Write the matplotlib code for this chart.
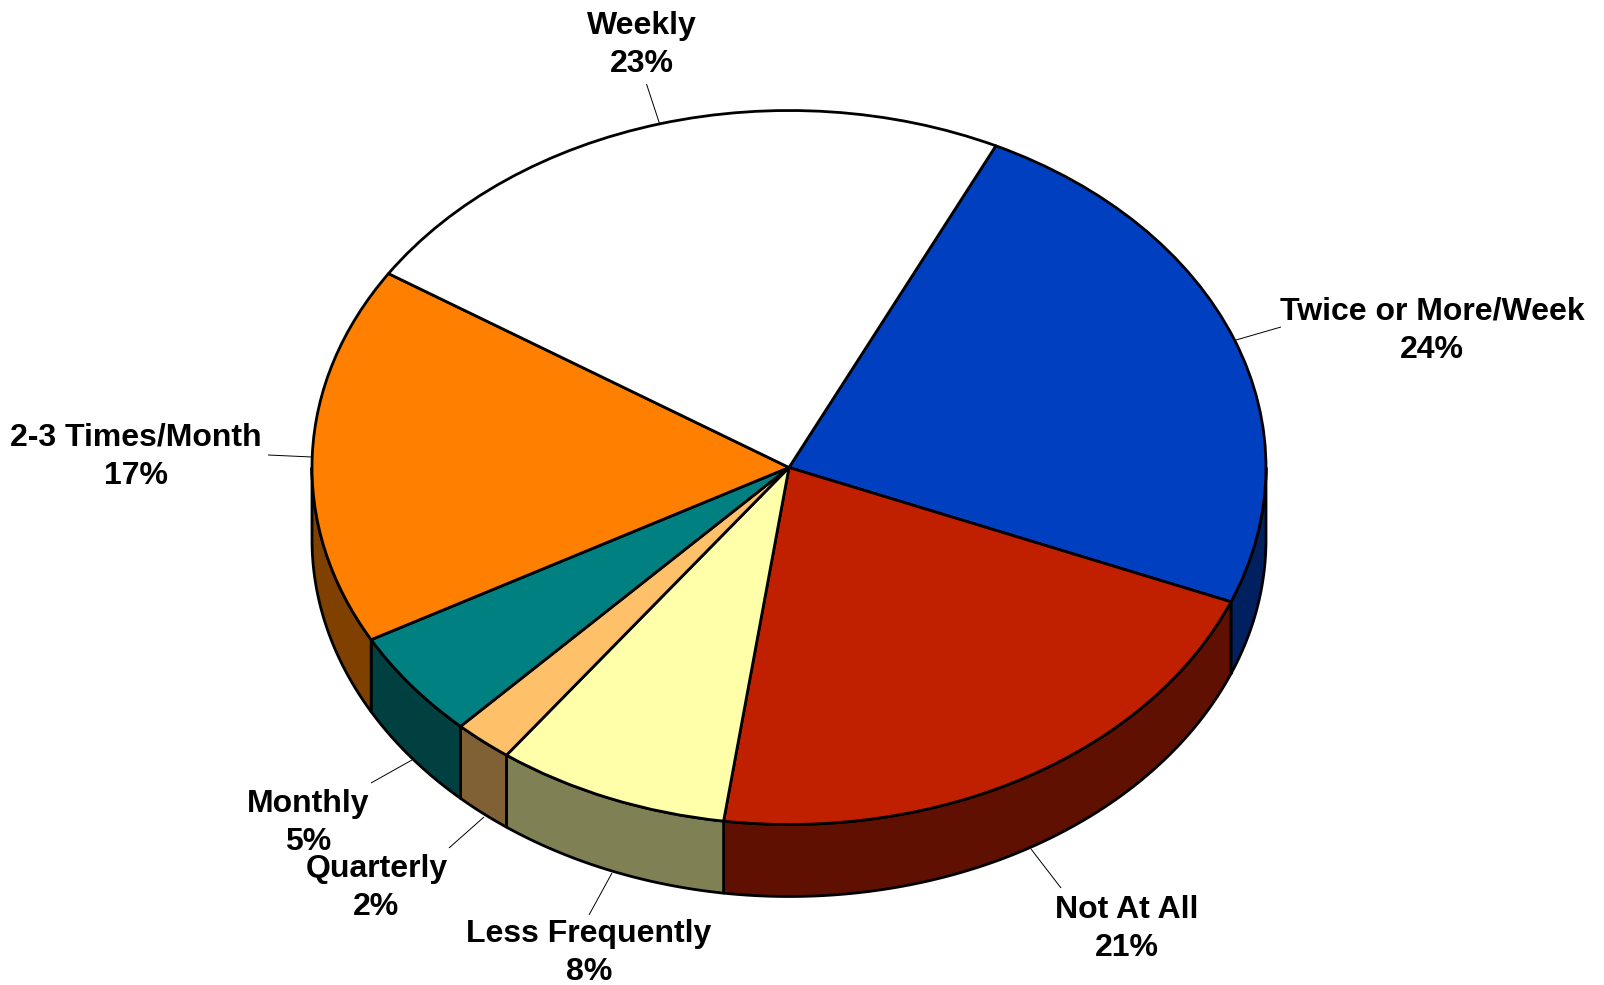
import numpy as np
import matplotlib
matplotlib.use('Agg')
import matplotlib.pyplot as plt
from matplotlib.patches import Polygon

plt.rcParams['font.family'] = ['Liberation Sans', 'DejaVu Sans']

categories = ['Twice or More/Week', 'Not At All', 'Less Frequently', 'Quarterly',
              'Monthly', '2-3 Times/Month', 'Weekly']
shares = [24.0, 21.05, 7.9, 2.0, 4.9, 17.15, 23.0]
top_colors = ['#0040c0', '#c02000', '#ffffaa', '#ffc06a', '#008080', '#ff8000', '#ffffff']
wall_colors = ['#002060', '#601000', '#808055', '#806035', '#004040', '#804000', '#808080']

# picture geometry, in pixels
W, H = 1604, 985
CX, CY, RX, RY, DEPTH = 789, 467.5, 477, 357, 72
START = 25.7  # degrees clockwise from the top

label_pos = [(1432, 331), (1127, 929), (589, 953), (376.5, 888), (308, 823), (136, 457), (641.5, 45)]
leaders = [[(1281, 327), (1236, 340)], [(1061, 888), (1031, 849)], [(589, 915), (612, 873)],
           [(449, 848), (484, 817)], [(371, 783), (412, 760)], [(268, 455), (312, 457)],
           [(646.5, 84), (660, 125)]]


def to_data(px, py):
    return (px - CX) / RX, (CY - py) / RY


fig = plt.figure(figsize=(W / 100, H / 100), dpi=100)
ax = fig.add_axes([0, 0, 1, 1])

# side wall, only the part facing the viewer
depth = DEPTH / RY
edges = START + np.cumsum([0] + shares) * 3.6
for i in range(len(shares)):
    a0 = max(edges[i], 90)
    a1 = min(edges[i + 1], 270)
    if a1 <= a0:
        continue
    t = np.radians(np.linspace(a0, a1, 80))
    x, y = np.sin(t), np.cos(t)
    pts = np.r_[np.c_[x, y], np.c_[x, y - depth][::-1]]
    ax.add_patch(Polygon(pts, closed=True, facecolor=wall_colors[i], edgecolor='k',
                         linewidth=2, joinstyle='round'))

ax.pie(shares, colors=top_colors, startangle=90 - START, counterclock=False, radius=1,
       wedgeprops={'edgecolor': 'k', 'linewidth': 2, 'joinstyle': 'round'})

for name, share, pos, line in zip(categories, shares, label_pos, leaders):
    (x0, y0), (x1, y1) = to_data(*line[0]), to_data(*line[1])
    ax.plot([x0, x1], [y0, y1], color='k', lw=0.7, solid_capstyle='butt')
    tx, ty = to_data(*pos)
    ax.text(tx, ty, '%s\n%.0f%%' % (name, share), ha='center', va='center', fontsize=23,
            fontweight='bold', linespacing=1.36, color='k')

ax.set_aspect('auto')
ax.set_xlim(-CX / RX, (W - CX) / RX)
ax.set_ylim((CY - H) / RY, CY / RY)
ax.axis('off')

fig.savefig('out.png', dpi=100, facecolor='white')
